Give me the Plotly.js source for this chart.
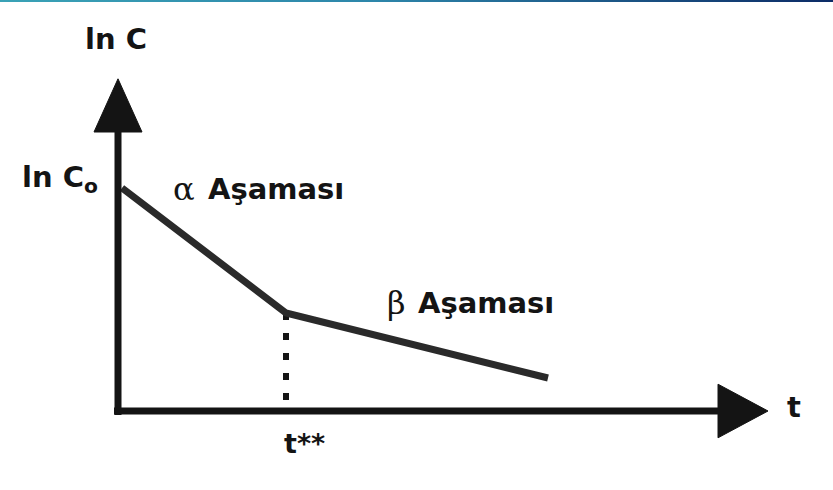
<!DOCTYPE html>
<html>
<head>
<meta charset="utf-8">
<script src="https://cdn.plot.ly/plotly-3.0.1.min.js"></script>
<style>
  html, body { margin: 0; padding: 0; background: #fff; }
  #wrap { position: relative; width: 833px; height: 490px; overflow: hidden; }
  #topbar { position: absolute; top: 0; left: 0; width: 833px; height: 2px;
            background: linear-gradient(90deg, #3aa2b6 0%, #2d86aa 45%, #0c2b66 100%); z-index: 5; }
  #chart { width: 833px; height: 490px; }
</style>
</head>
<body>
<div id="wrap">
  <div id="topbar"></div>
  <div id="chart"></div>
</div>
<script>
// Two-phase elimination: ln C against time (schematic values)
const phaseT   = [0.1, 4.2, 10.75];     // start, t**, end of the β phase
const phaseLnC = [5.575, 2.45, 0.825];  // ln C0, value at t**, last value
const tStar = 4.2;
const axisTEnd = 15, axisLnCEnd = 6.975;  // where the arrowheads begin
const arrowLen = 1.25, arrowHalf = 0.6;

const ink = '#141414';
const lineInk = '#2a2a2a';
const sans = 'DejaVu Sans';
const serif = 'DejaVu Serif';

const traces = [
  // t** marker (dotted drop line)
  { x: [tStar, tStar], y: [phaseLnC[1], 0], mode: 'lines',
    line: { color: ink, width: 6, dash: '7px,13px' }, hoverinfo: 'skip' },
  // concentration curve
  { x: phaseT, y: phaseLnC, mode: 'lines',
    line: { color: lineInk, width: 7 }, hoverinfo: 'skip' }
];

const shapes = [
  // ln C axis
  { type: 'line', x0: 0, x1: 0, y0: -0.1, y1: axisLnCEnd, line: { color: ink, width: 7 } },
  // t axis
  { type: 'line', x0: -0.1, x1: axisTEnd, y0: 0, y1: 0, line: { color: ink, width: 7 } },
  // arrowheads
  { type: 'path', path: `M ${-arrowHalf*1.0},${axisLnCEnd} L ${arrowHalf*1.0},${axisLnCEnd} L 0,${axisLnCEnd + 1.33} Z`,
    fillcolor: ink, line: { color: ink, width: 1 } },
  { type: 'path', path: `M ${axisTEnd},${-0.67} L ${axisTEnd},${0.67} L ${axisTEnd + arrowLen},0 Z`,
    fillcolor: ink, line: { color: ink, width: 1 } }
];

const bold = (size) => ({ family: sans, size: size, color: ink, weight: 'bold' });

const annotations = [
  { x: -0.05, y: 9.3, text: 'ln C', showarrow: false, font: bold(29), xanchor: 'center', yanchor: 'middle' },
  { x: -0.45, y: 5.8, text: 'ln C<sub>o</sub>', showarrow: false, font: bold(29), xanchor: 'right', yanchor: 'middle' },
  { x: 1.65, y: 5.55, text: 'α', showarrow: false, font: { family: serif, size: 32, color: ink }, xanchor: 'center', yanchor: 'middle' },
  { x: 2.2, y: 5.55, text: 'Aşaması', showarrow: false, font: bold(29), xanchor: 'left', yanchor: 'middle' },
  { x: 6.95, y: 2.7, text: 'β', showarrow: false, font: { family: serif, size: 32, color: ink }, xanchor: 'center', yanchor: 'middle' },
  { x: 7.45, y: 2.7, text: 'Aşaması', showarrow: false, font: bold(29), xanchor: 'left', yanchor: 'middle' },
  { x: 16.9, y: 0.1, text: 't', showarrow: false, font: bold(29), xanchor: 'center', yanchor: 'middle' },
  { x: 4.1, y: -0.8, text: 't**', showarrow: false, font: bold(27), xanchor: 'left', yanchor: 'middle' }
];

const layout = {
  width: 833, height: 490,
  margin: { l: 0, r: 0, t: 0, b: 0 },
  paper_bgcolor: '#ffffff', plot_bgcolor: '#ffffff',
  showlegend: false,
  xaxis: { range: [-2.95, 17.875], visible: false, fixedrange: true },
  yaxis: { range: [-1.975, 10.275], visible: false, fixedrange: true },
  shapes: shapes,
  annotations: annotations
};

Plotly.newPlot('chart', traces, layout, { staticPlot: true, displayModeBar: false });
</script>
</body>
</html>
